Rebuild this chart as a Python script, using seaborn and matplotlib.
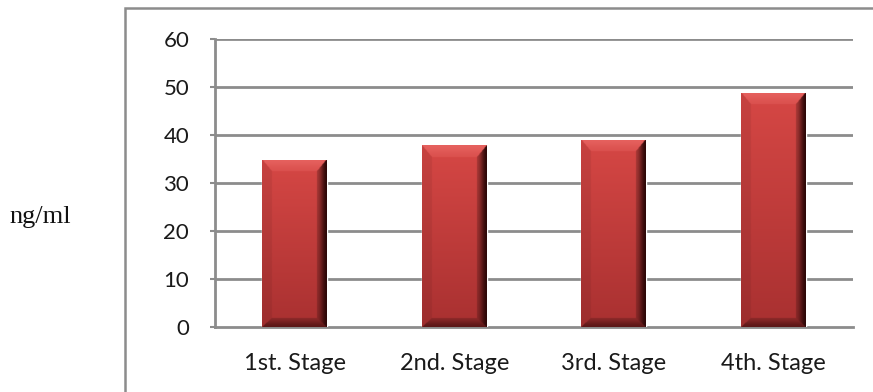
import matplotlib
matplotlib.use("Agg")
import matplotlib.pyplot as plt
import seaborn as sns
import numpy as np
import pandas as pd
from matplotlib.patches import Rectangle

categories = ["1st. Stage", "2nd. Stage", "3rd. Stage", "4th. Stage"]
values = [34.8, 37.9, 39.0, 48.8]
yticks = [0, 10, 20, 30, 40, 50, 60]
ylabel = "ng/ml"

sns.set_style("white")
plt.rcParams['font.family'] = ['Lato', 'DejaVu Sans']

df = pd.DataFrame({"stage": categories, "value": values})

fig = plt.figure(figsize=(8.73, 3.92), dpi=100)
ax_l, ax_r, ax_t, ax_b = 215, 853, 39, 327
ax = fig.add_axes([ax_l/873, 1-ax_b/392, (ax_r-ax_l)/873, (ax_b-ax_t)/392])

sns.barplot(data=df, x="stage", y="value", color="#C43B3B", width=0.406,
            saturation=1, ax=ax, zorder=3)

ax.set_ylim(0, 60)
ax.set_xlim(-0.5, len(categories) - 0.5)
ax.set_yticks(yticks)
ax.set_xlabel("")
ax.set_ylabel("")
grid_c = "#8c8c8c"
for y in yticks[1:]:
    ax.axhline(y, color=grid_c, lw=2.0, zorder=1)
for s in ["top", "right"]:
    ax.spines[s].set_visible(False)
ax.spines["left"].set_color(grid_c)
ax.spines["left"].set_linewidth(2.0)
ax.spines["bottom"].set_color(grid_c)
ax.spines["bottom"].set_linewidth(2.0)
ax.tick_params(axis="y", length=3.6, width=1.5, color=grid_c, labelsize=16,
               pad=15, labelcolor="#1a1a1a", left=True)
ax.tick_params(axis="x", length=0, labelsize=17, pad=19, labelcolor="#1a1a1a")

# bevel-like shading on bars (pixel-based)
px_per_unit_y = (ax_b - ax_t) / 60.0
px_per_cat = (ax_r - ax_l) / len(categories)


def smooth(t):
    return t * t * (3 - 2 * t)


for p in ax.patches:
    x0, y0 = p.get_x(), p.get_y()
    w, h = p.get_width(), p.get_height()
    W = max(int(round(w * px_per_cat)), 2) * 2
    H = max(int(round(h * px_per_unit_y)), 2) * 2
    PX, PY = np.meshgrid((np.arange(W) + 0.5) / 2, (np.arange(H) + 0.5) / 2)
    Wp, Hp = W / 2, H / 2
    dl, dr, dt, db = PX, Wp - PX, Hp - PY, PY
    bs, bt, bb = 10.0, 12.0, 9.0
    nl, nr, nt, nb = dl / bs, dr / bs, dt / bt, db / bb
    stack = np.stack([nl, nr, nt, nb])
    region = np.argmin(stack, axis=0)
    mn = np.min(stack, axis=0)
    face_top = np.array([0.84, 0.28, 0.27])
    face_bot = np.array([0.66, 0.19, 0.19])
    fy = (PY / Hp)[..., None]
    face = face_bot * (1 - fy) + face_top * fy
    img = face.copy()
    t = smooth(np.clip(mn, 0, 1))[..., None]
    top_c = np.array([0.90, 0.38, 0.37]) * (1 - t) + np.array([0.86, 0.32, 0.31]) * t
    right_c = np.array([0.18, 0.03, 0.03]) * (1 - t) + face * 0.78 * t
    left_c = face * 0.93
    bot_c = np.array([0.36, 0.09, 0.09]) * (1 - t) + face * 0.8 * t
    inb = mn < 1
    for k, col in enumerate([left_c, right_c, top_c, bot_c]):
        m = inb & (region == k)
        if col.ndim == 1:
            img[m] = col
        else:
            img[m] = col[m]
    im = ax.imshow(img, extent=[x0, x0 + w, y0, y0 + h], origin="lower",
                   aspect="auto", zorder=4, interpolation="bilinear")
    im.set_clip_path(p)

ax.set_xlim(-0.5, len(categories) - 0.5)
ax.set_ylim(0, 60)

# outer chart frame
fig.patches.append(Rectangle((125/873, -0.05), 1.0, 1 - 8/392 + 0.05,
                             transform=fig.transFigure, fill=False,
                             edgecolor=grid_c, lw=1.8))

fig.text(40/873, 1 - 217/392, ylabel, family=["Liberation Serif", "DejaVu Serif"],
         fontsize=19, ha="center", va="center", color="#111111")

fig.savefig("out.png", dpi=100)
